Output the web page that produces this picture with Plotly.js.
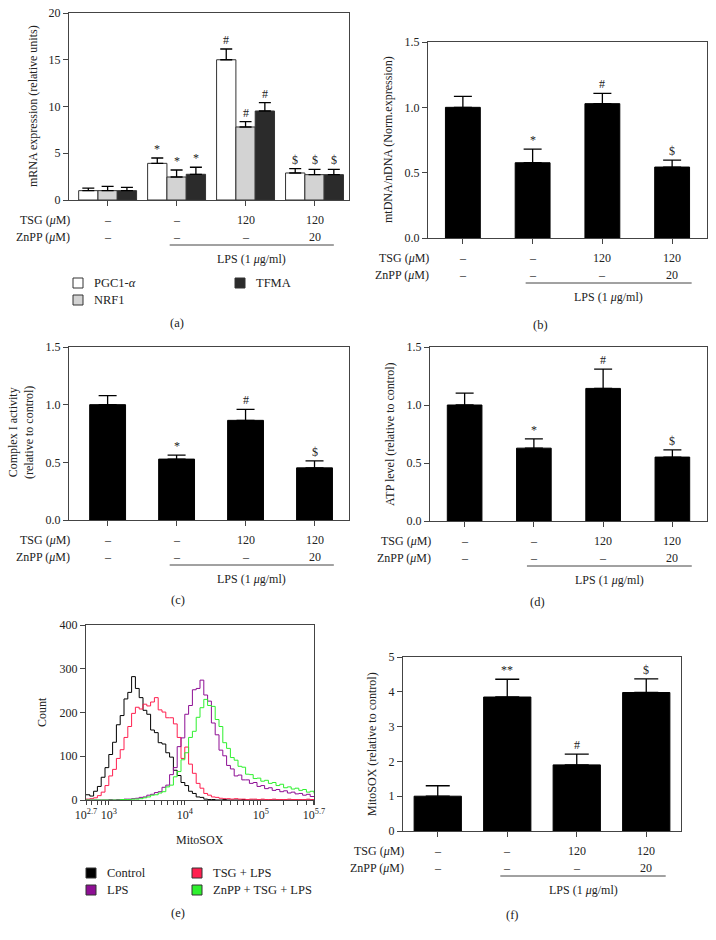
<!DOCTYPE html>
<html><head><meta charset="utf-8">
<script src="https://cdn.plot.ly/plotly-3.0.1.min.js"></script>
<style>body{margin:0;background:#fff}#chart{width:716px;height:940px}</style>
</head><body><div id="chart"></div>
<script>
// ---------- DATA ----------
const groups = ['Control', 'LPS', 'TSG+LPS', 'ZnPP+TSG+LPS'];
const tsgLabels = ['–', '–', '120', '120'];
const znppLabels = ['–', '–', '–', '20'];

// (a) mRNA expression
const geneNames = ['PGC1-<i>α</i>', 'NRF1', 'TFMA'];
const pgc1 = [1.0, 3.92, 15.0, 2.89];
const pgc1Err = [0.28, 0.57, 1.15, 0.46];
const nrf1 = [1.0, 2.46, 7.81, 2.71];
const nrf1Err = [0.45, 0.75, 0.57, 0.57];
const tfma = [1.0, 2.75, 9.52, 2.71];
const tfmaErr = [0.35, 0.75, 0.89, 0.57];
const sigA = ['', '*', '#', '$'];

// (b) mtDNA/nDNA
const mtdna = [1.0, 0.576, 1.028, 0.543];
const mtdnaErr = [0.084, 0.104, 0.079, 0.053];
// (c) Complex I activity
const complexI = [1.0, 0.528, 0.864, 0.452];
const complexIErr = [0.078, 0.034, 0.096, 0.061];
// (d) ATP level
const atp = [1.0, 0.628, 1.143, 0.551];
const atpErr = [0.103, 0.080, 0.166, 0.063];
const sigBCD = ['', '*', '#', '$'];
// (f) MitoSOX
const mitosox = [1.0, 3.85, 1.90, 3.98];
const mitosoxErr = [0.30, 0.51, 0.31, 0.39];
const sigF = ['', '**', '#', '$'];

// (e) flow cytometry histograms (x: log10 MitoSOX intensity)
const mitoLog = [2.70,2.75,2.80,2.85,2.90,2.95,3.00,3.05,3.10,3.15,3.20,3.25,3.30,3.35,3.40,3.45,3.50,3.55,3.60,3.65,
  3.70,3.75,3.80,3.85,3.90,3.95,4.00,4.05,4.10,4.15,4.20,4.25,4.30,4.35,4.40,4.45,4.50,4.55,4.60,4.65,
  4.70,4.75,4.80,4.85,4.90,4.95,5.00,5.05,5.10,5.15,5.20,5.25,5.30,5.35,5.40,5.45,5.50,5.55,5.60,5.65,5.70];
const histNames = ['Control', 'LPS', 'TSG + LPS', 'ZnPP + TSG + LPS'];
const countControl = [12,9,20,31,52,74,104,132,172,193,231,246,282,255,234,205,196,160,154,131,
  128,108,98,68,56,40,33,20,15,7,6,2,1,1,0,0,1,0,0,0,
  0,1,0,0,0,0,0,0,0,0,0,0,0,0,0,0,0,0,0,0,0];
const countLPS = [0,0,0,0,0,0,1,0,1,1,2,2,3,4,6,7,11,13,17,19,
  29,34,58,74,122,142,196,216,252,255,274,240,226,176,149,114,101,79,71,55,
  57,46,46,38,40,31,33,26,28,22,24,19,21,16,18,14,15,11,13,8,9];
const countTSG = [2,3,5,10,18,33,55,70,95,115,143,168,198,212,208,219,215,224,234,206,
  201,188,188,174,143,95,121,82,61,38,27,15,11,7,6,4,3,3,2,3,
  2,2,1,2,2,1,2,1,1,2,1,1,1,2,1,1,1,1,2,1,1];
const countZnPP = [0,0,0,0,0,0,0,0,0,1,1,1,2,2,3,5,7,11,12,16,
  19,30,34,53,65,92,108,143,157,189,211,230,216,214,184,168,131,118,97,91,
  77,75,59,58,49,50,43,45,38,40,33,36,28,30,25,27,22,24,18,20,15];

// ---------- STYLE / LAYOUT CONSTANTS ----------
const W = 716, H = 940;
const F = 'Liberation Serif, Times New Roman, serif';
const TXT = '#222', LINE = '#444';
const FS = 12;
const px = v => v / W, py = v => 1 - v / H;

const P = {
  a: {x: 'x',  y: 'y',  l: 69,  r: 349, t: 13,  b: 200, xr: [-0.56, 3.5], yr: [0, 20],  dt: 5,   fmt: 'd'},
  b: {x: 'x2', y: 'y2', l: 428, r: 707, t: 42,  b: 238, xr: [-0.5, 3.5],  yr: [0, 1.5], dt: 0.5, fmt: '.1f'},
  c: {x: 'x3', y: 'y3', l: 69,  r: 349, t: 347, b: 520, xr: [-0.56, 3.5], yr: [0, 1.5], dt: 0.5, fmt: '.1f'},
  d: {x: 'x4', y: 'y4', l: 430, r: 707, t: 347, b: 521, xr: [-0.5, 3.5],  yr: [0, 1.5], dt: 0.5, fmt: '.1f'},
  e: {x: 'x5', y: 'y5', l: 86,  r: 314, t: 625, b: 800},
  f: {x: 'x6', y: 'y6', l: 403, r: 681, t: 657, b: 831, xr: [-0.5, 3.5],  yr: [0, 5],   dt: 1,   fmt: 'd'}
};
const axKey = (id, c) => c + 'axis' + (id.length > 1 ? id.slice(1) : '');

const layout = {
  width: W, height: H, margin: {l: 0, r: 0, t: 0, b: 0},
  paper_bgcolor: '#fff', plot_bgcolor: '#fff',
  showlegend: false, barmode: 'overlay',
  font: {family: F, size: FS, color: TXT},
  annotations: [], shapes: []
};
const traces = [];

function setupAxes(p) {
  layout[axKey(p.x, 'x')] = {
    domain: [px(p.l), px(p.r)], anchor: p.y, range: p.xr, type: 'category',
    showline: true, mirror: true, linecolor: LINE, linewidth: 1,
    ticks: 'outside', ticklen: 5, tickcolor: LINE, showticklabels: false,
    showgrid: false, zeroline: false, fixedrange: true
  };
  layout[axKey(p.y, 'y')] = {
    domain: [py(p.b), py(p.t)], anchor: p.x, range: p.yr,
    showline: true, mirror: true, linecolor: LINE, linewidth: 1,
    ticks: 'outside', ticklen: 5, tickcolor: LINE, tick0: 0, dtick: p.dt, tickformat: p.fmt,
    tickfont: {family: F, size: FS, color: TXT},
    showgrid: false, zeroline: false, fixedrange: true
  };
}

function errBar(err, w) {
  return {type: 'data', symmetric: false, array: err, arrayminus: err.map(() => 0),
          color: '#000', thickness: 1.3, width: w};
}

function sigAnn(p, xs, vals, errs, sig) {
  xs.forEach((x, i) => {
    if (!sig[i]) return;
    layout.annotations.push({xref: p.x, yref: p.y, x: x, y: vals[i] + errs[i], yanchor: 'bottom',
      yshift: 0, text: sig[i], showarrow: false, font: {family: F, size: FS, color: TXT}});
  });
}

function treatmentRows(p) {
  const yb = p.b;
  const rows = [[20, 'TSG (<i>μ</i>M)', tsgLabels], [37, 'ZnPP (<i>μ</i>M)', znppLabels]];
  rows.forEach(([dy, lab, vals]) => {
    layout.annotations.push({xref: 'paper', yref: 'paper', x: px(p.l + 3), y: py(yb + dy),
      xanchor: 'right', yanchor: 'middle', text: lab, showarrow: false, font: {family: F, size: FS, color: TXT}});
    vals.forEach((v, i) => layout.annotations.push({xref: p.x, yref: 'paper', x: i, y: py(yb + dy),
      yanchor: 'middle', text: v, showarrow: false, font: {family: F, size: FS, color: TXT}}));
  });
  layout.shapes.push({type: 'line', xref: p.x, yref: 'paper', x0: 0.9, x1: 3.28,
    y0: py(yb + 45), y1: py(yb + 45), line: {color: LINE, width: 1}});
  layout.annotations.push({xref: p.x, yref: 'paper', x: 2.09, y: py(yb + 59), yanchor: 'middle',
    text: 'LPS (1 <i>μ</i>g/ml)', showarrow: false, font: {family: F, size: FS, color: TXT}});
}

function caption(txt, x, y) {
  layout.annotations.push({xref: 'paper', yref: 'paper', x: px(x), y: py(y), xanchor: 'center', yanchor: 'middle',
    text: txt, showarrow: false, font: {family: F, size: 12.5, color: TXT}});
}
function yTitle(txt, x, y) {
  layout.annotations.push({xref: 'paper', yref: 'paper', x: px(x), y: py(y), xanchor: 'center', yanchor: 'middle',
    text: txt, textangle: -90, showarrow: false, font: {family: F, size: FS, color: TXT}});
}
function legendItem(x, y, color, txt) {
  layout.shapes.push({type: 'rect', xref: 'paper', yref: 'paper', x0: px(x), x1: px(x + 10),
    y0: py(y + 5), y1: py(y - 5), fillcolor: color, line: {color: '#333', width: 1}});
  layout.annotations.push({xref: 'paper', yref: 'paper', x: px(x + 19), y: py(y), xanchor: 'left', yanchor: 'middle',
    text: txt, showarrow: false, font: {family: F, size: 12.5, color: TXT}});
}

// ---------- (a) grouped bars ----------
setupAxes(P.a);
const aSeries = [[pgc1, pgc1Err, '#ffffff'], [nrf1, nrf1Err, '#d3d3d3'], [tfma, tfmaErr, '#2b2b2b']];
const bw = 0.28;
aSeries.forEach(([vals, errs, col], k) => {
  const off = -1.5 * bw + k * bw;
  traces.push({type: 'bar', x: groups, y: vals, width: bw, offset: off, name: geneNames[k],
    marker: {color: col, line: {color: '#333', width: 1}}, error_y: errBar(errs, 6),
    xaxis: P.a.x, yaxis: P.a.y, hoverinfo: 'skip'});
  sigAnn(P.a, groups.map((g, i) => i + off + bw / 2), vals, errs, sigA);
});
treatmentRows(P.a);
yTitle('mRNA expression (relative units)', 33, 106);
legendItem(73, 283, '#ffffff', geneNames[0]);
legendItem(73, 300, '#d3d3d3', geneNames[1]);
legendItem(235, 283, '#2b2b2b', geneNames[2]);
caption('(a)', 177, 323);

// ---------- single bar panels ----------
function singlePanel(p, vals, errs, sig, width, capW) {
  setupAxes(p);
  traces.push({type: 'bar', x: groups, y: vals, width: width,
    marker: {color: '#000', line: {color: '#000', width: 1}}, error_y: errBar(errs, capW),
    xaxis: p.x, yaxis: p.y, hoverinfo: 'skip'});
  sigAnn(p, groups.map((g, i) => i), vals, errs, sig);
  treatmentRows(p);
}
singlePanel(P.b, mtdna, mtdnaErr, sigBCD, 0.5, 9);
yTitle('mtDNA/nDNA (Norm.expression)', 388, 140);
caption('(b)', 540, 325);

singlePanel(P.c, complexI, complexIErr, sigBCD, 0.52, 9);
yTitle('Complex I activity<br>(relative to control)', 21, 433);
caption('(c)', 178, 600);

singlePanel(P.d, atp, atpErr, sigBCD, 0.5, 9);
yTitle('ATP level (relative to control)', 390, 434);
caption('(d)', 537, 602);

singlePanel(P.f, mitosox, mitosoxErr, sigF, 0.68, 12);
yTitle('MitoSOX (relative to control)', 372, 744);
caption('(f)', 512, 915);

// ---------- (e) histogram ----------
const histColors = ['#000000', '#8e0f94', '#ff1f4f', '#2ef02e'];
const histCounts = [countControl, countLPS, countTSG, countZnPP];
const drawOrder = [0, 2, 1, 3];
const mitoX = mitoLog.map(v => Math.pow(10, v));
drawOrder.forEach(k => traces.push({type: 'scatter', mode: 'lines', x: mitoX, y: histCounts[k], name: histNames[k],
  line: {color: histColors[k], width: 1, shape: 'hv'}, xaxis: P.e.x, yaxis: P.e.y, hoverinfo: 'skip'}));

const majorLog = [2.7, 3, 4, 5, 5.7];
const majorTxt = ['10<sup>2.7</sup>', '10<sup>3</sup>', '10<sup>4</sup>', '10<sup>5</sup>', '10<sup>5.7</sup>'];
const minorVals = [];
[2, 3, 4, 5].forEach(d => [2, 3, 4, 5, 6, 7, 8, 9].forEach(m => {
  const v = m * Math.pow(10, d);
  if (Math.log10(v) > 2.7 && Math.log10(v) < 5.7) minorVals.push(v);
}));
layout.xaxis5 = {domain: [px(P.e.l), px(P.e.r)], anchor: 'y5', type: 'log', range: [2.7, 5.7],
  showline: true, mirror: true, linecolor: LINE, linewidth: 1, ticks: 'outside', ticklen: 4, tickcolor: LINE,
  tickmode: 'array', tickvals: majorLog.map(m => Math.pow(10, m)), ticktext: majorTxt,
  minor: {tickmode: 'array', tickvals: minorVals, ticks: 'outside', ticklen: 4, tickcolor: LINE, showgrid: false},
  tickfont: {family: F, size: FS, color: TXT},
  showgrid: false, zeroline: false, fixedrange: true};
layout.yaxis5 = {domain: [py(P.e.b), py(P.e.t)], anchor: 'x5', range: [0, 400],
  showline: true, mirror: true, linecolor: LINE, linewidth: 1, ticks: 'outside', ticklen: 5, tickcolor: LINE,
  dtick: 100, tickfont: {family: F, size: FS, color: TXT}, showgrid: false, zeroline: false, fixedrange: true};
yTitle('Count', 42, 712);
layout.annotations.push({xref: 'paper', yref: 'paper', x: px(200), y: py(840), xanchor: 'center', yanchor: 'middle',
  text: 'MitoSOX', showarrow: false, font: {family: F, size: FS, color: TXT}});
legendItem(86, 873, histColors[0], histNames[0]);
legendItem(86, 890, histColors[1], histNames[1]);
legendItem(192, 873, histColors[2], histNames[2]);
legendItem(192, 890, histColors[3], histNames[3]);
caption('(e)', 178, 913);

Plotly.newPlot('chart', traces, layout, {staticPlot: true, displayModeBar: false});
</script>
</body></html>
